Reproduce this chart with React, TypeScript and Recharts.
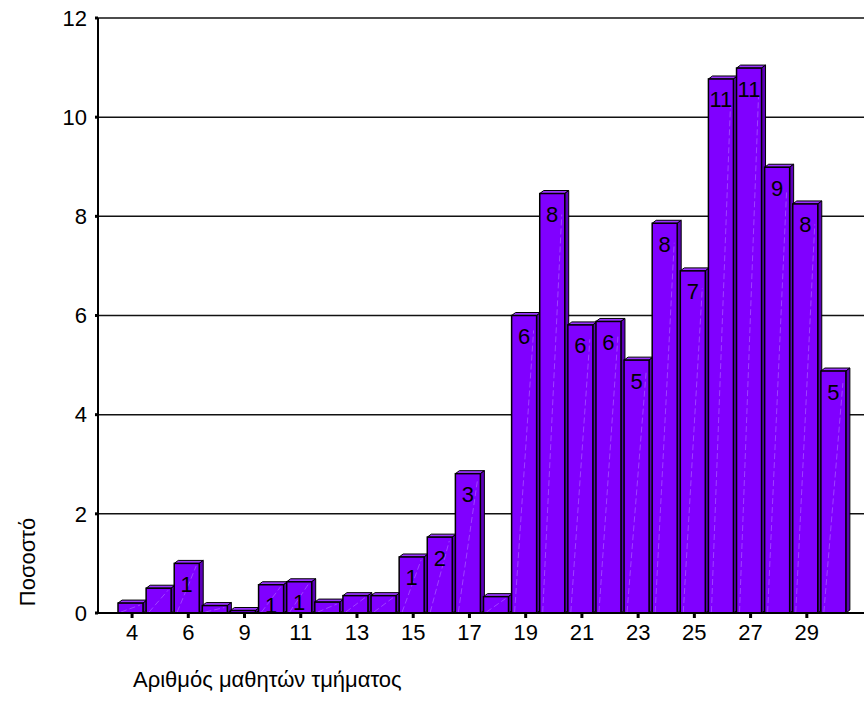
import { Bar, BarChart, CartesianGrid, LabelList, XAxis, YAxis } from 'recharts'

const categories = ['4', '5', '6', '8', '9', '10', '11', '12', '13', '14', '15', '16', '17', '18', '19', '20', '21', '22', '23', '24', '25', '26', '27', '28', '29', '30']
const percents = [0.2, 0.5, 1.0, 0.15, 0.05, 0.57, 0.63, 0.22, 0.35, 0.35, 1.13, 1.53, 2.81, 0.33, 6.0, 8.46, 5.81, 5.88, 5.1, 7.86, 6.9, 10.77, 10.99, 8.99, 8.25, 4.88]
const barLabels = ['', '', '1', '', '', '1', '1', '', '', '', '1', '2', '3', '', '6', '8', '6', '6', '5', '8', '7', '11', '11', '9', '8', '5']
const yTicks = [0, 2, 4, 6, 8, 10, 12]

const data = categories.map((cat, i) => ({ cat, pct: percents[i], label: barLabels[i] }))

const FONT = '"Liberation Sans", Arial, sans-serif'
const FACE = '#8000ff'
const TOP = '#9a33ff'
const SIDE = '#5c00b8'
const DX = 4
const DY = 3

function Bar3D(props: any) {
  const { x, y, width, height } = props
  if (height == null || width == null) return null
  const fx = x - 2
  const w = width
  const h = Math.max(height, 0)
  return (
    <g>
      <polygon
        points={`${fx},${y} ${fx + DX},${y - DY} ${fx + w + DX},${y - DY} ${fx + w},${y}`}
        fill={TOP}
        stroke="#000"
        strokeWidth={1}
      />
      <polygon
        points={`${fx + w},${y} ${fx + w + DX},${y - DY} ${fx + w + DX},${y + h - DY} ${fx + w},${y + h}`}
        fill={SIDE}
        stroke="#000"
        strokeWidth={1}
      />
      <rect x={fx} y={y} width={w} height={h} fill={FACE} stroke="#000" strokeWidth={1.5} />
      {h > 6 && (
        <line
          x1={fx + 3}
          y1={y + h - 1}
          x2={fx + w - 3}
          y2={y + Math.max(h * 0.05, 2)}
          stroke="#c9a0ff"
          strokeWidth={0.6}
          strokeDasharray="6 3"
          opacity={0.7}
        />
      )}
    </g>
  )
}

function BarText(props: any) {
  const { x, y, width, value } = props
  if (!value) return null
  return (
    <text
      x={x - 2 + width / 2}
      y={y + 21}
      textAnchor="middle"
      dominantBaseline="central"
      fontSize={22}
      fontFamily={FONT}
      fill="#000"
    >
      {value}
    </text>
  )
}

export default function App() {
  return (
    <div style={{ position: 'absolute', left: 0, top: 0, width: 864, height: 727, background: '#fff', fontFamily: FONT }}>
      <BarChart
        width={864}
        height={727}
        data={data}
        margin={{ top: 18, right: 0, left: 0, bottom: 0 }}
        barSize={25}
      >
        <CartesianGrid vertical={false} stroke="#111" strokeWidth={1.5} />
        <XAxis
          dataKey="cat"
          interval={1}
          height={114}
          padding={{ left: 20, right: 15 }}
          axisLine={{ stroke: '#000', strokeWidth: 2 }}
          tickLine={{ stroke: '#000', strokeWidth: 3 }}
          tickSize={5}
          tickMargin={6}
          tick={{ fontSize: 22, fill: '#000', fontFamily: FONT }}
        />
        <YAxis
          domain={[0, 12]}
          ticks={yTicks}
          width={98}
          axisLine={{ stroke: '#000', strokeWidth: 2 }}
          tickLine={{ stroke: '#000', strokeWidth: 3 }}
          tickSize={3}
          tickMargin={8}
          tick={{ fontSize: 22, fill: '#000', fontFamily: FONT }}
        />
        <Bar dataKey="pct" shape={<Bar3D />} isAnimationActive={false}>
          <LabelList dataKey="label" content={<BarText />} />
        </Bar>
      </BarChart>
      <div
        style={{
          position: 'absolute',
          left: 28,
          top: 562,
          transform: 'translate(-50%, -50%) rotate(-90deg)',
          fontSize: 22,
          whiteSpace: 'nowrap',
          color: '#000',
        }}
      >
        Ποσοστό
      </div>
      <div
        style={{
          position: 'absolute',
          left: 133,
          top: 667,
          fontSize: 22,
          whiteSpace: 'nowrap',
          color: '#000',
        }}
      >
        Αριθμός μαθητών τμήματος
      </div>
    </div>
  )
}
